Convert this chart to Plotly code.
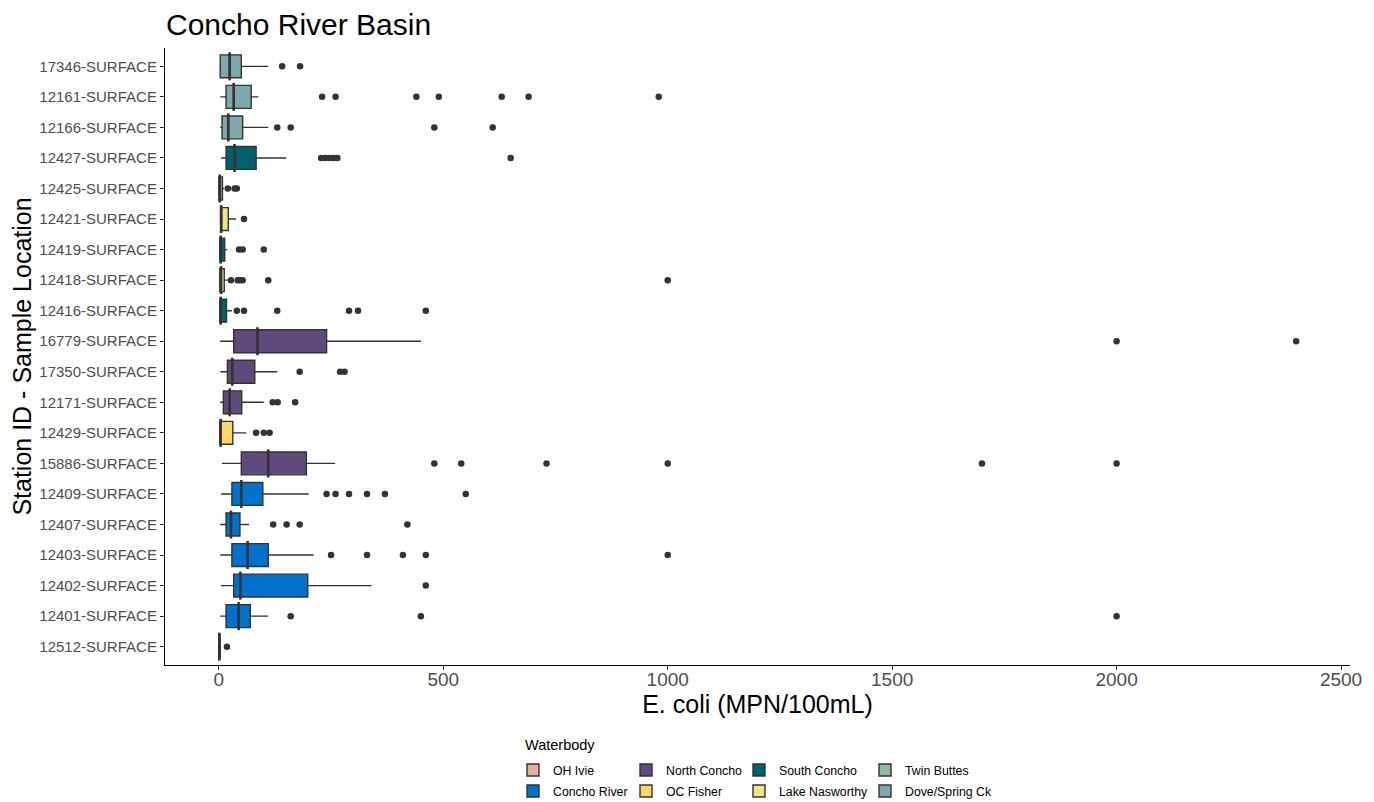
import plotly.graph_objects as go

# ---------------- data ----------------
stations = ["17346-SURFACE", "12161-SURFACE", "12166-SURFACE", "12427-SURFACE",
            "12425-SURFACE", "12421-SURFACE", "12419-SURFACE", "12418-SURFACE",
            "12416-SURFACE", "16779-SURFACE", "17350-SURFACE", "12171-SURFACE",
            "12429-SURFACE", "15886-SURFACE", "12409-SURFACE", "12407-SURFACE",
            "12403-SURFACE", "12402-SURFACE", "12401-SURFACE", "12512-SURFACE"]
waterbody = ["Dove/Spring Ck", "Dove/Spring Ck", "Dove/Spring Ck", "South Concho",
             "Twin Buttes", "Lake Nasworthy", "South Concho", "Lake Nasworthy",
             "South Concho", "North Concho", "North Concho", "North Concho",
             "OC Fisher", "North Concho", "Concho River", "Concho River",
             "Concho River", "Concho River", "Concho River", "OH Ivie"]
lower_fence = [1, 3, 3, 5, 0, 4, 1, 1, 1, 3, 3, 3, 1, 7, 5, 3, 3, 5, 3, 0]
q1 = [3, 16, 7, 16, 0, 4, 2, 2, 2, 33, 19, 10, 2, 50, 29, 16, 29, 33, 16, 0]
median = [24, 33, 21, 35, 2, 5, 4, 5, 4, 86, 30, 24, 4, 110, 50, 27, 64, 48, 44, 1]
q3 = [50, 72, 53, 83, 8, 21, 13, 12, 17, 240, 80, 51, 31, 195, 98, 47, 110, 198, 70, 3]
upper_fence = [110, 88, 110, 150, 12, 38, 19, 20, 29, 450, 130, 100, 61, 259, 200, 67, 211, 340, 110, 5]
outliers = [
    [141, 181],
    [230, 260, 440, 490, 630, 690, 980],
    [130, 160, 480, 610],
    [228, 237, 246, 255, 264, 650],
    [20, 35, 40],
    [56],
    [45, 53, 100],
    [27, 42, 48, 53, 110, 1000],
    [40, 56, 130, 290, 310, 461],
    [2000, 2400],
    [180, 270, 280],
    [120, 131, 170],
    [83, 100, 113],
    [480, 540, 730, 1000, 1700, 2000],
    [240, 260, 290, 330, 370, 550],
    [121, 151, 180, 420],
    [250, 330, 410, 461, 1000],
    [461],
    [160, 450, 2000],
    [18],
]

# legend layout: two rows, four columns (column-major as in the reference)
legend_order = ["OH Ivie", "Concho River", "North Concho", "OC Fisher",
                "South Concho", "Lake Nasworthy", "Twin Buttes", "Dove/Spring Ck"]
colors = {
    "OH Ivie": "#E8AE9C",
    "Concho River": "#0072CE",
    "North Concho": "#5E4A7D",
    "OC Fisher": "#FED56A",
    "South Concho": "#00606C",
    "Lake Nasworthy": "#EDE387",
    "Twin Buttes": "#93B89F",
    "Dove/Spring Ck": "#7FA7AD",
}

FONT = "Liberation Sans, Arial, sans-serif"

# page body has an 8px margin: lay out in a 1366x794 figure
W, H = 1366, 794
L, R, T, B = 157, 24, 40, 137
plot_w = W - L - R
plot_h = H - T - B

col_x = [505, 618, 731, 857]   # legend column positions (px, layout)
row_y = [762, 783]             # legend row centres (px, layout)

fig = go.Figure()
legends = {}
for k, wb in enumerate(legend_order):
    col, row = k // 2, k % 2
    lname = "legend" if k == 0 else f"legend{k + 1}"
    legends[lname] = dict(
        orientation="h", xref="container", yref="container",
        x=col_x[col] / W, xanchor="left", y=1 - row_y[row] / H, yanchor="middle",
        font=dict(size=12.3, color="#000000", family=FONT),
        bgcolor="rgba(0,0,0,0)",
    )
    idx = [i for i, w in enumerate(waterbody) if w == wb]
    fig.add_trace(go.Box(
        name=wb,
        y=[stations[i] for i in idx],
        q1=[q1[i] for i in idx],
        median=[median[i] for i in idx],
        q3=[q3[i] for i in idx],
        lowerfence=[lower_fence[i] for i in idx],
        upperfence=[upper_fence[i] for i in idx],
        orientation="h",
        boxpoints=False,
        fillcolor=colors[wb],
        line=dict(color="#333333", width=1.4),
        whiskerwidth=0,
        width=0.75,
        legend=lname,
        hoverinfo="skip",
    ))

# thicker median bars (ggplot fatten = 2)
fig.add_trace(go.Scatter(
    x=median, y=stations, mode="markers",
    marker=dict(symbol="line-ns", size=20, line=dict(color="#333333", width=2.6)),
    showlegend=False, hoverinfo="skip",
))

ox, oy = [], []
for s, vals in zip(stations, outliers):
    for v in vals:
        ox.append(v)
        oy.append(s)
fig.add_trace(go.Scatter(
    x=ox, y=oy, mode="markers",
    marker=dict(color="#333333", size=6.5),
    showlegend=False, hoverinfo="skip",
))

fig.update_layout(
    width=W, height=H,
    margin=dict(l=L, r=R, t=T, b=B),
    paper_bgcolor="white", plot_bgcolor="white",
    font=dict(family=FONT, color="#000000"),
    boxmode="overlay",
    title=dict(text="Concho River Basin", x=(L + 1) / W, xanchor="left",
               y=1 - 16 / H, yanchor="middle",
               font=dict(size=30, color="#000000", family=FONT)),
    xaxis=dict(
        range=[-120, 2520],
        tickvals=[0, 500, 1000, 1500, 2000, 2500],
        ticktext=["0", "500", "1000", "1500", "2000", "2500"],
        showgrid=False, zeroline=False, automargin=False,
        showline=True, linecolor="#000000", linewidth=1.2,
        ticks="outside", ticklen=4, tickcolor="#333333",
        ticklabelstandoff=-7,
        tickfont=dict(size=19, color="#4D4D4D", family=FONT),
        title=dict(text="E. coli (MPN/100mL)", font=dict(size=25, color="#000000", family=FONT),
                   standoff=0),
    ),
    yaxis=dict(
        type="category",
        categoryorder="array",
        categoryarray=list(reversed(stations)),
        range=[-0.6, 19.6],
        showgrid=False, zeroline=False, automargin=False,
        showline=True, linecolor="#000000", linewidth=1.2,
        ticks="outside", ticklen=4, tickcolor="#333333",
        tickfont=dict(size=15, color="#4D4D4D", family=FONT),
        title=dict(text="Station ID - Sample Location", font=dict(size=25, color="#000000", family=FONT),
                   standoff=0),
    ),
    annotations=[dict(
        text="Waterbody", xref="paper", yref="paper",
        x=(515 - L) / plot_w, xanchor="left",
        y=-(737 - (H - B)) / plot_h, yanchor="middle",
        showarrow=False, font=dict(size=14.5, color="#000000", family=FONT),
    )],
    **legends,
)

fig.write_html("out.html")
